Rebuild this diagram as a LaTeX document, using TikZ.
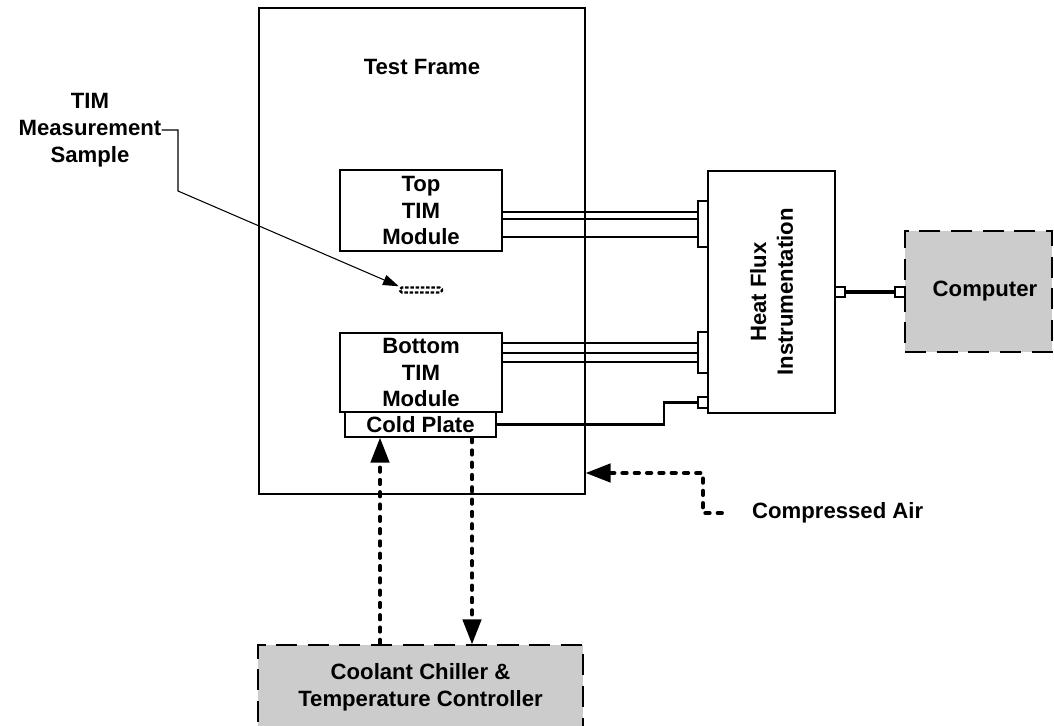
\documentclass[tikz,border=0pt]{standalone}
\usepackage{fontspec}
\setmainfont{Liberation Sans}
\usetikzlibrary{arrows.meta}

\begin{document}
\begin{tikzpicture}[x=0.02cm, y=-0.02cm,
    font=\fontsize{12.6}{15.2}\selectfont\bfseries,
    box/.style={draw, line width=1.1pt, fill=white, inner sep=0pt},
    unit/.style={draw, line width=1.1pt, dash pattern=on 12pt off 6pt, fill=black!20, inner sep=0pt},
    port/.style={draw, line width=1.1pt, fill=white, inner sep=0pt, minimum width=0.2cm},
    wire/.style={line width=1.2pt},
    flow/.style={line width=2.2pt, line cap=round, dash pattern=on 2.5pt off 4.5pt,
      -{Triangle[length=14pt,width=11pt,line width=0pt]}}]
    \useasboundingbox (0,0) rectangle (1054,726);

    % test frame and modules
    \node[box, minimum width=6.52cm, minimum height=9.72cm] (frame) at (422,251) {};
    \node (frametitle) at (422,67) {Test Frame};
    \node[box, align=center, minimum width=3.24cm, minimum height=1.62cm] (topmod) at (421,210.5) {Top\\TIM\\Module};
    \node[box, align=center, minimum width=3.24cm, minimum height=1.58cm] (botmod) at (421,372.5) {Bottom\\TIM\\Module};
    \node[box, minimum width=3.02cm, minimum height=0.5cm] (coldplate) at (420.5,424.5) {Cold Plate};
    \node[draw, line width=1.4pt, dash pattern=on 2pt off 1pt, rounded corners=1pt,
      inner sep=0pt, minimum width=0.84cm, minimum height=0.1cm] (sample) at (421,290) {};

    % instrumentation
    \node[box, minimum width=2.54cm, minimum height=4.84cm] (heatflux) at (771.5,292) {};
    \node[rotate=90, align=center] (hftext) at (heatflux.center) {Heat Flux\\Instrumentation};
    \node[unit, minimum width=2.94cm, minimum height=2.42cm] (computer) at (978.5,291.5) {};
    \node (comptext) at (985,291) {Computer};
    \node[unit, align=center, minimum width=6.5cm, minimum height=1.7cm] (chiller) at (420.5,687.5)
      {Coolant Chiller \&\\Temperature Controller};

    % wires to the heat flux box
    \foreach \y in {212,219,237} \draw[wire] (topmod.east |- 0,\y) -- (698,\y);
    \foreach \y in {343,353,362} \draw[wire] (botmod.east |- 0,\y) -- (698,\y);
    \node[port, minimum height=0.92cm] (topport) at (703,224) {};
    \node[port, minimum height=0.82cm] (botport) at (703,352.5) {};
    \node[port, minimum height=0.22cm] (cpport) at (703,402.5) {};
    \draw[wire] (coldplate.east) -- ++(167,0) |- (cpport.west);
    \node[port, minimum height=0.2cm] (outport) at (840,292) {};
    \node[port, minimum height=0.2cm] (inport) at (900,292) {};
    \draw[line width=1.8pt] (outport.east) -- (inport.west);

    % sample label
    \node[align=center, inner xsep=0pt] (samplelabel) at (90,130) {TIM\\Measurement\\Sample};
    \draw[line width=0.6pt, -{Triangle[length=9pt,width=6pt]}]
      (samplelabel.east) -- (178,130) -- (178,191) -- (sample.north west);

    % coolant loop
    \draw[flow] (chiller.north -| 380,0) -- (coldplate.south -| 380,0);
    \draw[flow] (coldplate.south -| 472,0) -- (chiller.north -| 472,0);

    % compressed air
    \node[anchor=west] (airlabel) at (746,513) {Compressed Air};
    \coordinate (airsrc) at (722,513);
    \draw[flow] (airsrc) -- (703,513) -- (703,473) -- (frame.east |- 0,473);
\end{tikzpicture}
\end{document}
